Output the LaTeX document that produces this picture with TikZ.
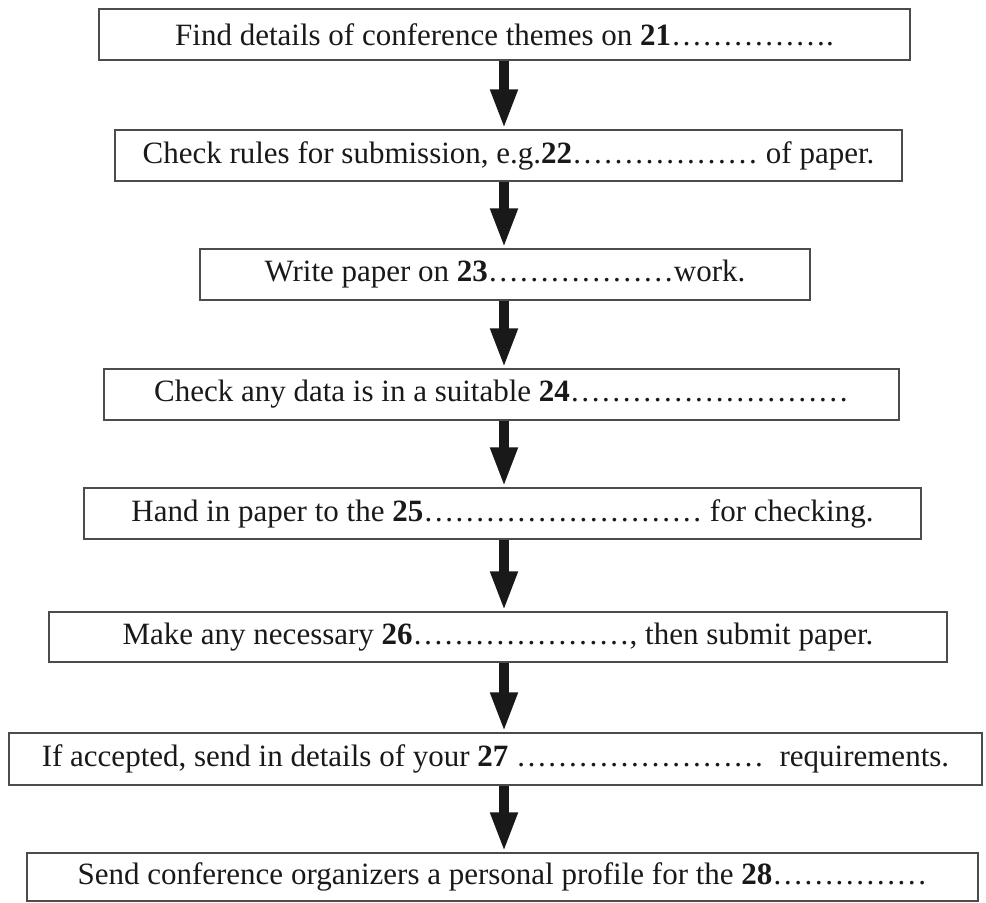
\documentclass[tikz,border=0pt]{standalone}
\usepackage{fontspec}
\setmainfont{Liberation Serif}
\usetikzlibrary{arrows.meta}

\begin{document}
\begin{tikzpicture}[x=0.5pt,y=-0.5pt]
  \def\XAXIS{504}
  \def\HBOX{25.5pt}

  \tikzset{
      stepbox/.style={draw=black!70,line width=0.7pt,inner sep=0pt,
        minimum height=\HBOX,text=black!90,
        font=\fontsize{15.5}{18}\selectfont},
      flow/.style={-{Triangle[length=20pt,width=12.5pt]},
        line width=5pt,black!90},
  }

  \useasboundingbox (0,0) rectangle (986,903);
  \coordinate (axis) at (\XAXIS,0);

  \node [stepbox,minimum width=405.5pt] (s1) at (504.5,34.5)
    {Find details of conference themes on \textbf{21}…………….};
  \node [stepbox,minimum width=393.5pt] (s2) at (508.5,155.5)
    {Check rules for submission, e.g.\textbf{22}……………… of paper.};
  \node [stepbox,minimum width=305pt] (s3) at (505,274.5)
    {Write paper on \textbf{23}………………work.};
  \node [stepbox,minimum width=397.5pt] (s4) at (501.5,394.5)
    {Check any data is in a suitable \textbf{24}………………………};
  \node [stepbox,minimum width=418.5pt] (s5) at (502.5,513.5)
    {Hand in paper to the \textbf{25}……………………… for checking.};
  \node [stepbox,minimum width=449pt,minimum height=25pt] (s6) at (498,637)
    {Make any necessary \textbf{26}…………………, then submit paper.};
  \node [stepbox,minimum width=486.5pt,minimum height=26pt] (s7) at (495.5,759)
    {If accepted, send in details of your \textbf{27} ……………………\enspace requirements.};
  \node [stepbox,minimum width=475.5pt,minimum height=24pt] (s8) at (502.5,877)
    {Send conference organizers a personal profile for the \textbf{28}……………};

  \draw [flow] (s1.south -| axis) -- (s2.north -| axis);
  \draw [flow] (s2.south -| axis) -- (s3.north -| axis);
  \draw [flow] (s3.south -| axis) -- (s4.north -| axis);
  \draw [flow] (s4.south -| axis) -- (s5.north -| axis);
  \draw [flow] (s5.south -| axis) -- (s6.north -| axis);
  \draw [flow] (s6.south -| axis) -- (s7.north -| axis);
  \draw [flow] (s7.south -| axis) -- (s8.north -| axis);
\end{tikzpicture}
\end{document}
